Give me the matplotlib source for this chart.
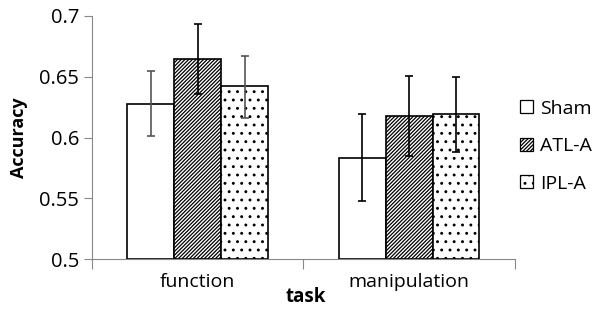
import matplotlib.pyplot as plt
import numpy as np

plt.rcParams['font.family'] = ['Open Sans', 'DejaVu Sans']
plt.rcParams['hatch.linewidth'] = 0.9

tasks = ['function', 'manipulation']
groups = ['Sham', 'ATL-A', 'IPL-A']
hatches = ['', '/////////', '..']

# bar heights and error bar ends per group (function, manipulation)
means = {
    'Sham': [0.628, 0.583],
    'ATL-A': [0.665, 0.618],
    'IPL-A': [0.642, 0.619],
}
err_low = {
    'Sham': [0.601, 0.548],
    'ATL-A': [0.636, 0.585],
    'IPL-A': [0.616, 0.588],
}
err_high = {
    'Sham': [0.655, 0.619],
    'ATL-A': [0.693, 0.651],
    'IPL-A': [0.667, 0.650],
}
err_colors = {
    'Sham': ['#555555', 'black'],
    'ATL-A': ['black', 'black'],
    'IPL-A': ['#555555', 'black'],
}

fig = plt.figure(figsize=(6, 3.13), dpi=100)
ax = fig.add_axes([0.153, 0.172, 0.705, 0.777])

x = np.arange(len(tasks))
w = 0.222
for i, g in enumerate(groups):
    pos = x + (i - 1) * w
    m = np.array(means[g])
    ax.bar(pos, m - 0.5, w, bottom=0.5, color='white', edgecolor='black',
           hatch=hatches[i], linewidth=1.2, label=g, zorder=2)
    for j in range(len(tasks)):
        lo = m[j] - err_low[g][j]
        hi = err_high[g][j] - m[j]
        ax.errorbar(pos[j], m[j], yerr=[[lo], [hi]], fmt='none',
                    ecolor=err_colors[g][j], elinewidth=1.2, capsize=3,
                    capthick=1.2, zorder=3)

ax.set_ylim(0.5, 0.7)
ax.set_xlim(-0.5, 1.5)
ax.set_yticks([0.5, 0.55, 0.6, 0.65, 0.7])
ax.set_yticklabels(['0.5', '0.55', '0.6', '0.65', '0.7'])
ax.set_xticks([-0.5, 0.5, 1.5])
ax.set_xticklabels(['', '', ''])
ax.set_xticks(x, minor=True)
ax.set_xticklabels(tasks, minor=True)
ax.tick_params(axis='x', which='minor', length=0, pad=10, labelsize=14)
ax.tick_params(axis='x', which='major', length=7, color='#888888')
ax.tick_params(axis='y', length=6, color='#888888', labelsize=14.5, pad=3)

for s in ['top', 'right']:
    ax.spines[s].set_visible(False)
for s in ['left', 'bottom']:
    ax.spines[s].set_color('#888888')

ax.set_ylabel('Accuracy', fontsize=13, fontweight='bold', labelpad=8)
fig.text(0.51, 0.05, 'task', fontsize=13.5, fontweight='bold', ha='center', va='center')

leg = ax.legend(loc='center left', bbox_to_anchor=(0.972, 0.465), frameon=False,
                fontsize=14, handlelength=0.65, handleheight=0.65, handletextpad=0.35,
                labelspacing=1.0)
for p in leg.get_patches():
    p.set_linewidth(0.9)

fig.savefig('out.png', dpi=100)
